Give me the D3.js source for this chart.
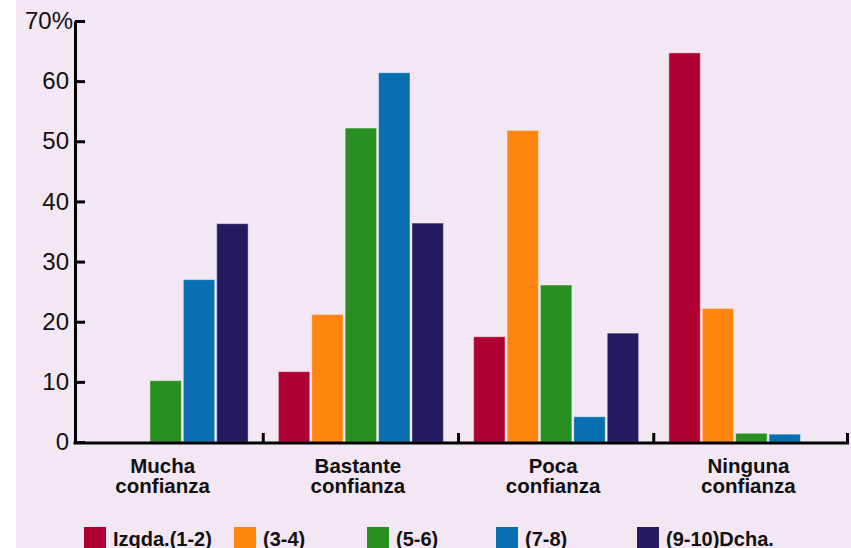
<!DOCTYPE html>
<html>
<head>
<meta charset="utf-8">
<script src="https://cdn.jsdelivr.net/npm/d3@7"></script>
<style>
  body { margin: 0; background: #fff; }
  svg { display: block; font-family: "Liberation Sans", Arial, sans-serif; }
</style>
</head>
<body>
<div id="chart"></div>
<script>
// datos
const categories = ["Mucha\nconfianza", "Bastante\nconfianza", "Poca\nconfianza", "Ninguna\nconfianza"];
const seriesNames = ["Izqda.(1-2)", "(3-4)", "(5-6)", "(7-8)", "(9-10)Dcha."];
const izqda = [0, 11.7, 17.5, 64.7];
const s34 = [0, 21.2, 51.8, 22.2];
const s56 = [10.2, 52.2, 26.1, 1.45];
const s78 = [27.0, 61.4, 4.2, 1.3];
const dcha = [36.3, 36.4, 18.1, 0];
const yTicks = [0, 10, 20, 30, 40, 50, 60, 70];

const seriesValues = [izqda, s34, s56, s78, dcha];
const colors = ["#ae0033", "#ff860e", "#279020", "#0870b0", "#241a60"];

const size = {
    width: 851,
    height: 548,
    bgLeft: 16,
    axisX: 75,
    axisEnd: 849,
    top: 21,
    base: 442,
    groupWidth: 165,
    legend: { y: 527, box: 22, xs: [84, 234, 367, 496, 637] }
};

const svg = d3.select("#chart").append("svg")
    .attr("width", size.width)
    .attr("height", size.height);

svg.append("rect")
    .attr("x", size.bgLeft).attr("y", 0)
    .attr("width", size.width - size.bgLeft).attr("height", size.height)
    .attr("fill", "#f3e7f4");

const y = d3.scaleLinear().domain([0, 70]).range([size.base, size.top]);
const x = d3.scaleBand().domain(categories).range([68, 849]).padding(0);
const bw = x.bandwidth();
const xInner = d3.scaleBand().domain(seriesNames)
    .range([(bw - size.groupWidth) / 2, (bw + size.groupWidth) / 2])
    .paddingInner(0.06);

// barras
const groups = svg.append("g").selectAll("g")
    .data(categories)
    .join("g")
    .attr("transform", c => `translate(${x(c)},0)`);

groups.selectAll("rect")
    .data((c, i) => seriesNames.map((s, j) => ({ s, v: seriesValues[j][i], color: colors[j] })))
    .join("rect")
    .filter(d => d.v > 0)
    .attr("x", d => xInner(d.s))
    .attr("width", xInner.bandwidth())
    .attr("y", d => y(d.v))
    .attr("height", d => y(0) - y(d.v))
    .attr("fill", d => d.color)
    .attr("stroke", "#ffffff")
    .attr("stroke-opacity", 0.4)
    .attr("stroke-width", 1);

// eje Y
const yAxis = svg.append("g")
    .attr("transform", `translate(${size.axisX},0)`)
    .call(d3.axisLeft(y)
        .tickValues(yTicks)
        .tickSizeInner(-10)
        .tickSizeOuter(0)
        .tickPadding(6)
        .tickFormat(d => d === 70 ? "70%" : d));
yAxis.select(".domain").attr("stroke", "#000").attr("stroke-width", 3);
yAxis.selectAll(".tick line").attr("stroke", "#000").attr("stroke-width", 3);
yAxis.selectAll(".tick text")
    .attr("font-size", 24)
    .attr("font-family", "Liberation Sans, Arial, sans-serif")
    .attr("fill", "#111")
    .filter(d => d === 70).attr("x", -2);

// eje X
const xAxis = svg.append("g")
    .attr("transform", `translate(0,${size.base})`)
    .call(d3.axisBottom(x).tickSize(0).tickPadding(0));
xAxis.select(".domain").remove();
xAxis.selectAll(".tick text").each(function(d) {
    const t = d3.select(this).text(null)
        .attr("font-size", 20.5)
        .attr("font-weight", "bold")
        .attr("font-family", "Liberation Sans, Arial, sans-serif")
        .attr("fill", "#111")
        .attr("y", 0).attr("dy", null);
    d.split("\n").forEach((line, i) => {
        t.append("tspan").attr("x", -3).attr("y", 31 + i * 20).text(line);
    });
});

svg.append("line")
    .attr("x1", size.axisX - 1.5).attr("x2", size.axisEnd)
    .attr("y1", size.base + 1).attr("y2", size.base + 1)
    .attr("stroke", "#000").attr("stroke-width", 3);

svg.append("g").selectAll("line")
    .data(categories)
    .join("line")
    .attr("x1", c => Math.min(x(c) + bw, size.axisEnd - 1.5))
    .attr("x2", c => Math.min(x(c) + bw, size.axisEnd - 1.5))
    .attr("y1", size.base - 9).attr("y2", size.base)
    .attr("stroke", "#000").attr("stroke-width", 3);

// leyenda
const legend = svg.append("g").selectAll("g")
    .data(seriesNames)
    .join("g")
    .attr("transform", (d, i) => `translate(${size.legend.xs[i]},${size.legend.y})`);
legend.append("rect")
    .attr("width", size.legend.box).attr("height", size.legend.box)
    .attr("fill", (d, i) => colors[i]);
legend.append("text")
    .attr("x", size.legend.box + 7)
    .attr("y", 19)
    .attr("font-size", 20)
    .attr("font-weight", "bold")
    .attr("fill", "#111")
    .text(d => d);
</script>
</body>
</html>
